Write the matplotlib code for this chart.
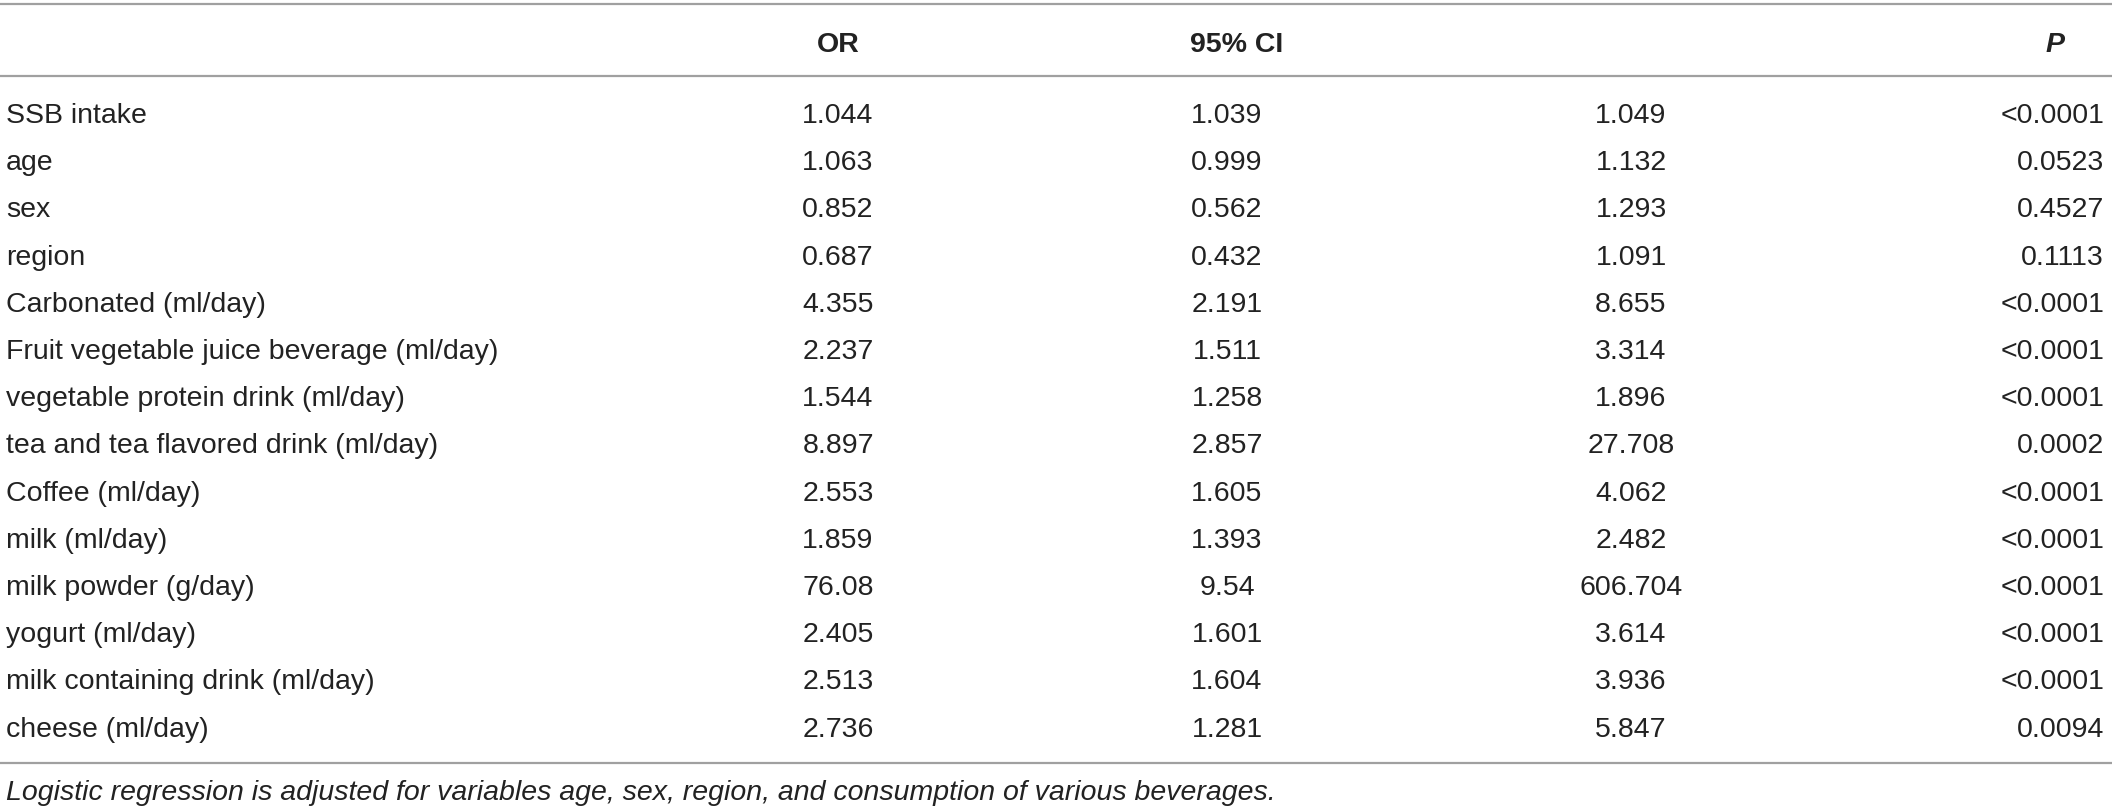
import matplotlib
matplotlib.use("Agg")
import matplotlib.pyplot as plt

# ---- table content --------------------------------------------------------
variables = [
    "SSB intake", "age", "sex", "region", "Carbonated (ml/day)",
    "Fruit vegetable juice beverage (ml/day)", "vegetable protein drink (ml/day)",
    "tea and tea flavored drink (ml/day)", "Coffee (ml/day)", "milk (ml/day)",
    "milk powder (g/day)", "yogurt (ml/day)", "milk containing drink (ml/day)",
    "cheese (ml/day)",
]
odds_ratio = ["1.044", "1.063", "0.852", "0.687", "4.355", "2.237", "1.544",
              "8.897", "2.553", "1.859", "76.08", "2.405", "2.513", "2.736"]
ci_lower = ["1.039", "0.999", "0.562", "0.432", "2.191", "1.511", "1.258",
            "2.857", "1.605", "1.393", "9.54", "1.601", "1.604", "1.281"]
ci_upper = ["1.049", "1.132", "1.293", "1.091", "8.655", "3.314", "1.896",
            "27.708", "4.062", "2.482", "606.704", "3.614", "3.936", "5.847"]
p_values = ["<0.0001", "0.0523", "0.4527", "0.1113", "<0.0001", "<0.0001",
            "<0.0001", "0.0002", "<0.0001", "<0.0001", "<0.0001", "<0.0001",
            "<0.0001", "0.0094"]
footnote = ("Logistic regression is adjusted for variables age, sex, region, "
            "and consumption of various beverages.")

W, H = 2117, 812
TXT = "#222222"
RULE = "#a0a0a0"
FS = 20.5

plt.rcParams["font.family"] = ["Liberation Sans", "DejaVu Sans"]

fig = plt.figure(figsize=(W / 100, H / 100), dpi=100)
ax = fig.add_axes([0, 0, 1, 1])
ax.set_xlim(0, W)
ax.set_ylim(H, 0)
ax.axis("off")

# horizontal rules
for y in (5, 77, 764):
    ax.plot([0, W - 5], [y, y], color=RULE, lw=1.6, solid_capstyle="butt")

# header
hy = 52
ax.text(838, hy, "OR", ha="center", va="baseline", fontsize=FS,
        fontweight="bold", color=TXT)
ax.text(1190, hy, "95% CI", ha="left", va="baseline", fontsize=FS,
        fontweight="bold", color=TXT)
ax.text(2065, hy, "P", ha="right", va="baseline", fontsize=FS,
        fontweight="bold", fontstyle="italic", color=TXT)

# body rows
y0, step = 123, 47.2
for i, name in enumerate(variables):
    y = y0 + i * step
    ax.text(6, y, name, ha="left", va="baseline", fontsize=FS, color=TXT)
    ax.text(838, y, odds_ratio[i], ha="center", va="baseline", fontsize=FS, color=TXT)
    ax.text(1227, y, ci_lower[i], ha="center", va="baseline", fontsize=FS, color=TXT)
    ax.text(1631, y, ci_upper[i], ha="center", va="baseline", fontsize=FS, color=TXT)
    ax.text(2104, y, p_values[i], ha="right", va="baseline", fontsize=FS, color=TXT)

# footnote
ax.text(6, 800, footnote, ha="left", va="baseline", fontsize=FS,
        fontstyle="italic", color=TXT)

fig.savefig("out.png", dpi=100)
